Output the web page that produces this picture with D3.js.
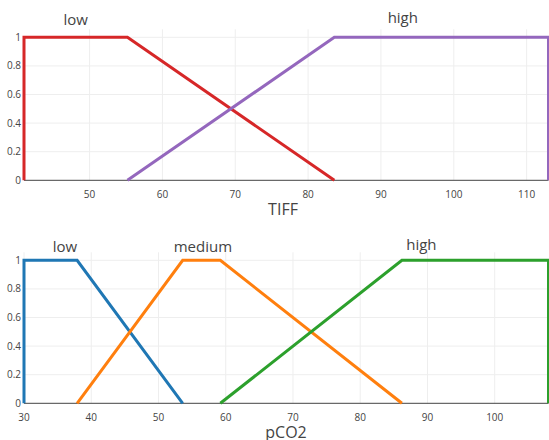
<!DOCTYPE html>
<html>
<head>
<meta charset="utf-8">
<script src="https://cdn.jsdelivr.net/npm/d3@7/dist/d3.min.js"></script>
<style>
  body { margin: 0; background: #fff; }
  svg text { font-family: "Open Sans", verdana, arial, sans-serif; fill: #444; }
</style>
</head>
<body>
<div id="chart"></div>
<script>
// TIFF membership functions
var tiffTicks = [50, 60, 70, 80, 90, 100, 110];
var tiffLow = [[41, 0], [41, 1], [55.2, 1], [83.6, 0]];
var tiffHigh = [[55.2, 0], [83.6, 1], [113, 1], [113, 0]];

// pCO2 membership functions
var pco2Ticks = [30, 40, 50, 60, 70, 80, 90, 100];
var pco2Low = [[30, 0], [30, 1], [37.9, 1], [53.6, 0]];
var pco2Medium = [[37.9, 0], [53.6, 1], [59.2, 1], [86.2, 0]];
var pco2High = [[59.2, 0], [86.2, 1], [108, 1], [108, 0]];

var yTicks = [0, 0.2, 0.4, 0.6, 0.8, 1];

var svg = d3.select("#chart").append("svg")
  .attr("width", 549)
  .attr("height", 440);

function panel(opts) {
  var x = d3.scaleLinear().domain(opts.xDomain).range([24, 548.5]);
  var y = d3.scaleLinear().domain([0, 1]).range([opts.bottom, opts.bottom - 143]);
  var top = y(1.056);
  var g = svg.append("g");

  // grid
  g.selectAll(".vg").data(opts.ticks).enter().append("line")
    .attr("x1", function (d) { return x(d); })
    .attr("x2", function (d) { return x(d); })
    .attr("y1", top).attr("y2", opts.bottom)
    .attr("stroke", "#eee").attr("stroke-width", 1);
  g.selectAll(".hg").data(yTicks.slice(1)).enter().append("line")
    .attr("x1", 24).attr("x2", 548.5)
    .attr("y1", function (d) { return y(d); })
    .attr("y2", function (d) { return y(d); })
    .attr("stroke", "#eee").attr("stroke-width", 1);

  // zero line
  g.append("line")
    .attr("x1", 24).attr("x2", 548.5)
    .attr("y1", opts.bottom).attr("y2", opts.bottom)
    .attr("stroke", "#444").attr("stroke-width", 1);

  // tick labels
  g.selectAll(".xt").data(opts.ticks).enter().append("text")
    .attr("x", function (d) { return x(d); })
    .attr("y", opts.bottom + 18)
    .attr("text-anchor", "middle")
    .style("font-size", "10px")
    .text(function (d) { return d; });
  g.selectAll(".yt").data(yTicks).enter().append("text")
    .attr("x", 21)
    .attr("y", function (d) { return y(d) + 3.5; })
    .attr("text-anchor", "end")
    .style("font-size", "10px")
    .text(function (d) { return d; });

  // axis title
  g.append("text")
    .attr("x", opts.titleX)
    .attr("y", opts.bottom + 35)
    .attr("text-anchor", "middle")
    .style("font-size", "16px")
    .text(opts.title);

  var line = d3.line()
    .x(function (d) { return x(d[0]); })
    .y(function (d) { return y(d[1]); });

  opts.series.forEach(function (s) {
    g.append("path")
      .datum(s.data)
      .attr("d", line)
      .attr("fill", "none")
      .attr("stroke", s.color)
      .attr("stroke-width", 3)
      .attr("stroke-linejoin", "miter");
    g.append("text")
      .attr("x", x(s.labelX))
      .attr("y", y(1) - s.labelDy)
      .attr("text-anchor", "middle")
      .style("font-size", "15px")
      .text(s.name);
  });
}

panel({
  xDomain: [41, 113],
  ticks: tiffTicks,
  bottom: 180.3,
  title: "TIFF",
  titleX: 283,
  series: [
    { name: "low", data: tiffLow, color: "#d62728", labelX: 48.1, labelDy: 12 },
    { name: "high", data: tiffHigh, color: "#9467bd", labelX: 93, labelDy: 14 }
  ]
});

panel({
  xDomain: [30, 108],
  ticks: pco2Ticks,
  bottom: 403.3,
  title: "pCO2",
  titleX: 286,
  series: [
    { name: "low", data: pco2Low, color: "#1f77b4", labelX: 36.1, labelDy: 8 },
    { name: "medium", data: pco2Medium, color: "#ff7f0e", labelX: 56.6, labelDy: 8 },
    { name: "high", data: pco2High, color: "#2ca02c", labelX: 89.1, labelDy: 10 }
  ]
});
</script>
</body>
</html>
